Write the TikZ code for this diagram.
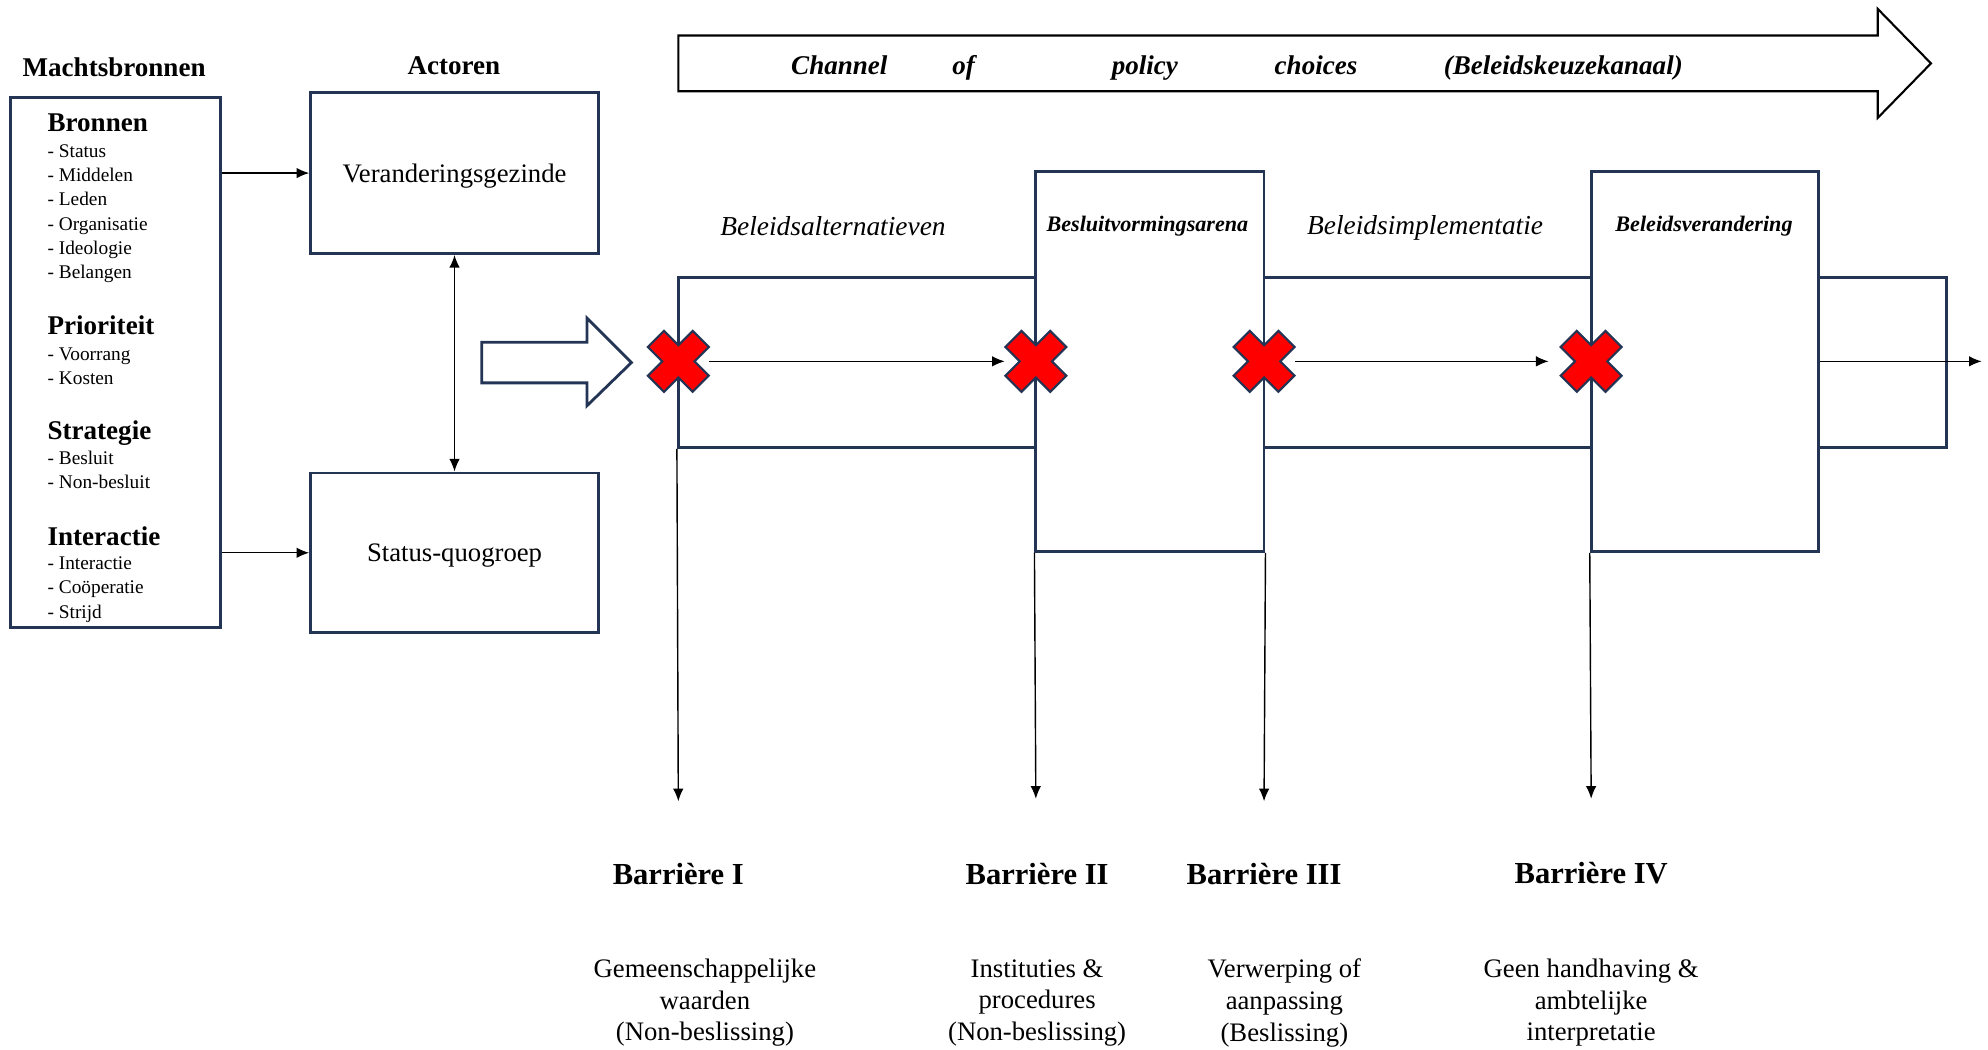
\documentclass[tikz,border=0pt]{standalone}
\usepackage{fontspec}
\setmainfont{Liberation Serif}
\usetikzlibrary{arrows.meta}

\newlength\px
\setlength\px{0.3608pt}
\definecolor{boxblue}{RGB}{35,52,85}
\definecolor{xred}{RGB}{255,0,0}

\tikzset{
  box/.style={draw=boxblue, line width=0.8pt, fill=white, inner sep=0pt},
  arr/.style={-{Latex[length=3.6pt,width=3pt]}, line width=0.4pt, black},
  twoarr/.style={{Latex[length=3.6pt,width=3pt]}-{Latex[length=3.6pt,width=3pt]}, line width=0.4pt, black},
  title/.style={font=\fontsize{7.7}{9}\selectfont\bfseries},
  head/.style={anchor=base west, inner sep=0pt, font=\fontsize{7.7}{9}\selectfont\bfseries},
  item/.style={anchor=base west, inner sep=0pt, font=\fontsize{5.5}{7}\selectfont},
  plain/.style={font=\fontsize{7.6}{9}\selectfont},
  chan/.style={anchor=base, inner sep=0pt, font=\fontsize{7.7}{9}\selectfont\bfseries\itshape},
  stage/.style={font=\fontsize{7.8}{9}\selectfont\itshape},
  arena/.style={font=\fontsize{6.3}{8}\selectfont\bfseries\itshape},
  barrier/.style={font=\fontsize{8.7}{10}\selectfont\bfseries},
  desc/.style={font=\fontsize{7.6}{9}\selectfont, align=center},
  stop/.style={minimum size=48\px, inner sep=0pt},
  redx/.pic={
    \filldraw[fill=xred, draw=boxblue, line width=0.6pt, rotate=45]
      (9,25) -- (9,9) -- (25,9) -- (25,-9) -- (9,-9) -- (9,-25) -- (-9,-25) -- (-9,-9)
      -- (-25,-9) -- (-25,9) -- (-9,9) -- (-9,25) -- cycle;
  }
}

\begin{document}
\begin{tikzpicture}[x=1\px, y=-1\px]
  \useasboundingbox (0,0) rectangle (1568,828);

  % titles
  \node[title] (mtitle) at (90,53) {Machtsbronnen};
  \node[title] (atitle) at (358,52) {Actoren};

  % machtsbronnen box
  \node[box, minimum width=166\px, minimum height=418\px] (machts) at (91,286) {};
  \node[head] (hbron) at (37,104) {Bronnen};
  \foreach \t [count=\i] in {Status, Middelen, Leden, Organisatie, Ideologie, Belangen}
    \node[item] (ib\i) at (37,{119+19.2*(\i-1)+5}) {- \t};
  \node[head] (hprio) at (37,264) {Prioriteit};
  \node[item] (ip1) at (37,284) {- Voorrang};
  \node[item] (ip2) at (37,303) {- Kosten};
  \node[head] (hstrat) at (37,347) {Strategie};
  \node[item] (is1) at (37,366) {- Besluit};
  \node[item] (is2) at (37,385) {- Non-besluit};
  \node[head] (hint) at (37,430) {Interactie};
  \node[item] (ii1) at (37,449) {- Interactie};
  \node[item] (ii2) at (37,468) {- Coöperatie};
  \node[item] (ii3) at (37,488) {- Strijd};

  % actoren
  \node[box, plain, minimum width=227\px, minimum height=127\px, text depth=0pt] (verand) at (358.5,136.5) {Veranderingsgezinde};
  \node[box, plain, minimum width=227\px, minimum height=126\px, text depth=0pt] (status) at (358.5,436) {Status-quogroep};
  \draw[arr] (machts.east |- verand) -- (verand.west);
  \draw[arr] (machts.east |- status) -- (status.west);
  \draw[twoarr] (verand.south) -- (status.north);

  % hollow arrow into the channel
  \draw[draw=boxblue, line width=0.8pt, fill=white]
    (380,270) -- (463,270) -- (463,251) -- (498,286) -- (463,320) -- (463,302) -- (380,302) -- cycle;

  % channel of policy choices
  \draw[line width=0.6pt, fill=white]
    (535,28) -- (1481,28) -- (1481,7) -- (1523,50) -- (1481,93) -- (1481,72) -- (535,72) -- cycle;
  \node[chan] (c1) at (662,59) {Channel};
  \node[chan] (c2) at (760,59) {of};
  \node[chan] (c3) at (903,59) {policy};
  \node[chan] (c4) at (1038,59) {choices};
  \node[chan] (c5) at (1233,59) {(Beleidskeuzekanaal)};

  % band and arenas
  \node[box, minimum width=1000\px, minimum height=134\px] (band) at (1035,286) {};
  \node[box, minimum width=180\px, minimum height=300\px] (arenaA) at (907,285) {};
  \node[box, minimum width=179\px, minimum height=300\px] (arenaB) at (1344.5,285) {};
  \node[arena] (la) at (905,178) {Besluitvormingsarena};
  \node[arena] (lb) at (1344,178) {Beleidsverandering};
  \node[stage] (s1) at (657,178) {Beleidsalternatieven};
  \node[stage] (s2) at (1124,180) {Beleidsimplementatie};

  % barriers
  \node[stop] (x1) at (535,285) {};
  \node[stop] (x2) at (817,285) {};
  \node[stop] (x3) at (997,285) {};
  \node[stop] (x4) at (1255,285) {};
  \coordinate (out) at (1563,285);
  \draw[arr] (x1.east) -- (x2.west);
  \draw[arr, shorten >=9\px] (x3.east) -- (x4.west);
  \draw[arr] (arenaB.east) -- (out);
  \foreach \n in {x1,x2,x3,x4}
    \pic at (\n) {redx};

  \coordinate (e1) at (535,632);
  \coordinate (e2) at (817,630);
  \coordinate (e3) at (997,632);
  \coordinate (e4) at (1255,630);
  \draw[arr] (band.south west) -- (e1);
  \draw[arr] (arenaA.south west) -- (e2);
  \draw[arr] (arenaA.south east) -- (e3);
  \draw[arr] (arenaB.south west) -- (e4);

  \node[barrier] (b1) at (535,689) {Barrière I};
  \node[barrier] (b2) at (818,689) {Barrière II};
  \node[barrier] (b3) at (997,689) {Barrière III};
  \node[barrier] (b4) at (1255,689) {Barrière IV};

  \node[desc] (d1) at (556,791) {Gemeenschappelijke\\waarden\\(Non-beslissing)};
  \node[desc] (d2) at (818,791) {Instituties \&\\procedures\\(Non-beslissing)};
  \node[desc] (d3) at (1013,791) {Verwerping of\\aanpassing\\(Beslissing)};
  \node[desc] (d4) at (1255,791) {Geen handhaving \&\\ambtelijke\\interpretatie};
\end{tikzpicture}
\end{document}
